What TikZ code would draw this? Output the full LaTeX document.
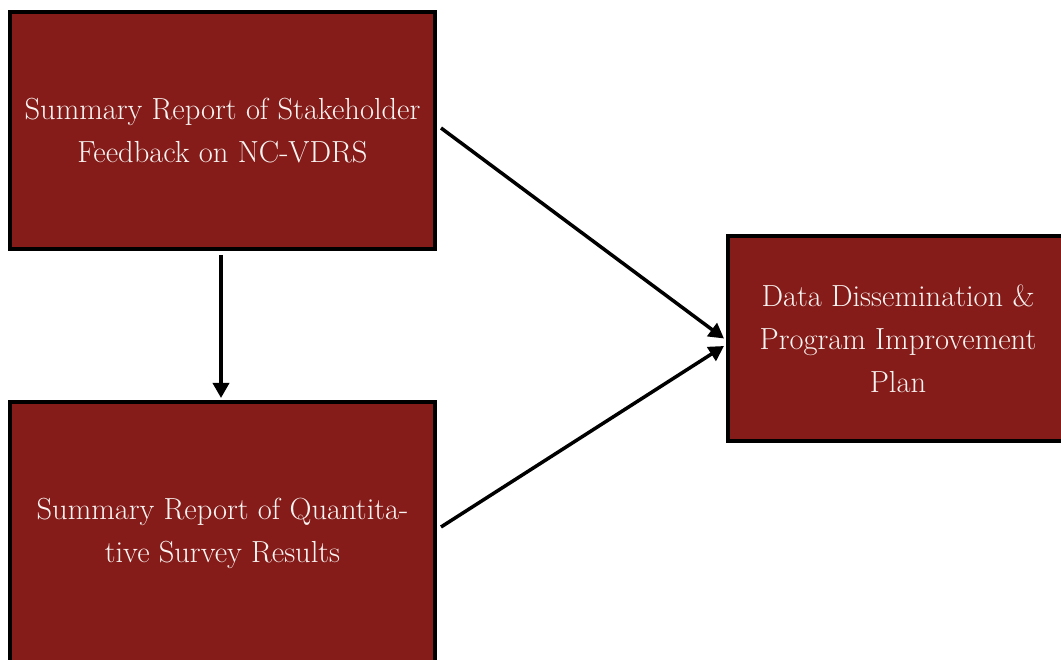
\documentclass[tikz,border=0pt]{standalone}
\usepackage{fontspec}
\usetikzlibrary{arrows.meta}
\definecolor{boxred}{HTML}{851C19}
\definecolor{boxtext}{HTML}{FAF5F3}
\begin{document}
\begin{tikzpicture}[x=1pt,y=-1pt,
  box/.style={draw=black, line width=4pt, fill=boxred, text=boxtext, align=center,
    inner sep=0pt, font=\fontsize{30.5}{43}\selectfont},
  conn/.style={line width=3.5pt, -{Triangle[length=15pt,width=16pt]}}]
\useasboundingbox (0,0) rectangle (1061,660);
\clip (0,0) rectangle (1061,660);
\node[box, minimum width=425pt, minimum height=237pt] (b1) at (222.5,130.5)
  {Summary Report of Stakeholder\\Feedback on NC-VDRS};
\node[box, minimum width=425pt, minimum height=262pt] (b2) at (222.5,533)
  {Summary Report of Quantita-\\tive Survey Results};
\node[box, minimum width=340pt, minimum height=205pt] (b3) at (898,338.5)
  {Data Dissemination \&\\Program Improvement\\Plan};
\draw[conn] ([yshift=-4pt]b1.south -| 221,0) -- ([yshift=2pt]b2.north -| 221,0);
\draw[conn] ([xshift=4pt,yshift=2.5pt]b1.east) -- ([xshift=-2pt,yshift=0pt]b3.west);
\draw[conn] ([xshift=4pt,yshift=6pt]b2.east) -- ([xshift=-2pt,yshift=-7.5pt]b3.west);
\end{tikzpicture}
\end{document}
